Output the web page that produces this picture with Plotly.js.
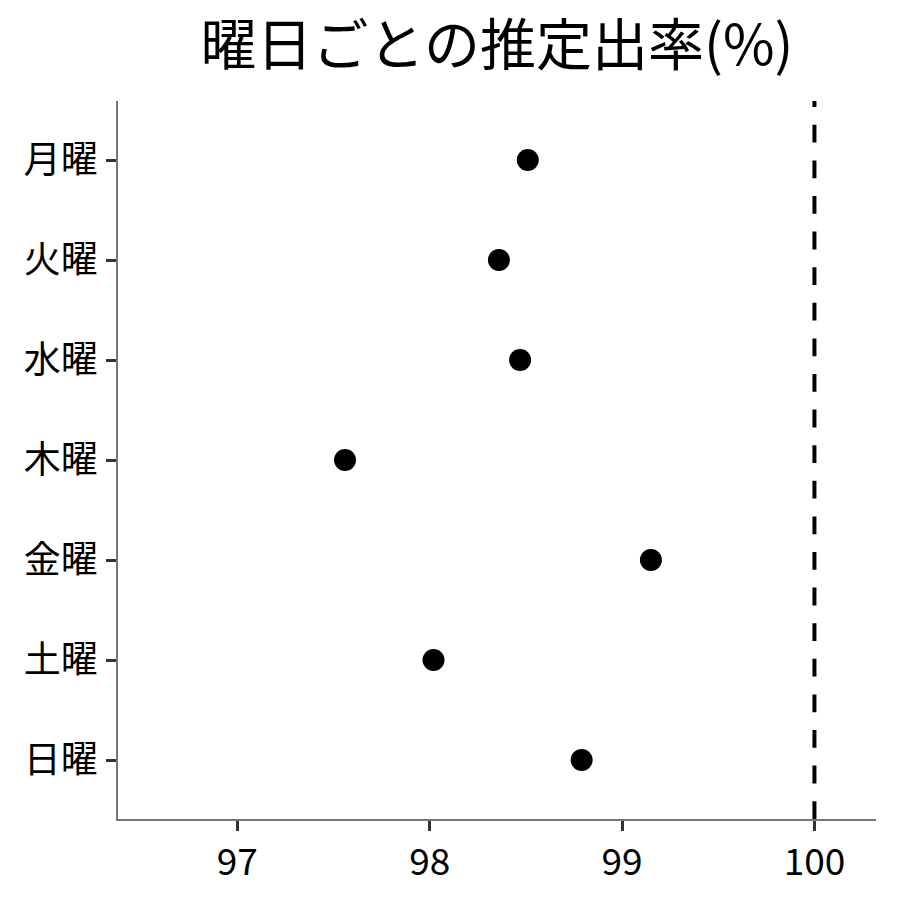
<!DOCTYPE html>
<html>
<head>
<meta charset="utf-8">
<script src="https://cdn.plot.ly/plotly-3.0.1.min.js"></script>
<style>body{margin:0;background:#fff}</style>
</head>
<body>
<div id="chart" style="width:900px;height:900px"></div>
<script>
// 曜日ごとの推定出率
var days = ['月曜', '火曜', '水曜', '木曜', '金曜', '土曜', '日曜'];
var rates = [98.51, 98.36, 98.47, 97.56, 99.15, 98.02, 98.79];
var refLine = 100;
var xTicks = [97, 98, 99, 100];

var trace = {
    type: 'scatter',
    mode: 'markers',
    x: rates,
    y: days,
    marker: {color: '#000', size: 22},
    hoverinfo: 'x+y'
};

var layout = {
    width: 900,
    height: 900,
    margin: {l: 118, r: 24, t: 101, b: 81},
    paper_bgcolor: '#fff',
    plot_bgcolor: '#fff',
    font: {family: '"Noto Sans CJK JP", "Noto Sans", sans-serif', color: '#000'},
    showlegend: false,
    title: {
        text: '曜日ごとの推定出率(%)',
        font: {size: 56, color: '#000'},
        x: 0.5, xref: 'paper', xanchor: 'center',
        y: 0.95, yanchor: 'middle'
    },
    xaxis: {
        range: [96.38, 100.32],
        tickvals: xTicks,
        ticktext: xTicks.map(String),
        showgrid: false,
        zeroline: false,
        showline: true,
        linecolor: '#777',
        linewidth: 1.5,
        ticks: 'outside',
        ticklen: 10,
        tickwidth: 3,
        tickcolor: '#333',
        tickfont: {size: 37, color: '#000'}
    },
    yaxis: {
        type: 'category',
        categoryorder: 'array',
        categoryarray: days,
        range: [6.59, -0.59],
        showgrid: false,
        zeroline: false,
        showline: true,
        linecolor: '#777',
        linewidth: 1.5,
        ticks: 'outside',
        ticklen: 10,
        tickwidth: 3,
        tickcolor: '#333',
        ticklabelstandoff: 1,
        tickfont: {size: 37, color: '#000'}
    },
    shapes: [{
        type: 'line',
        xref: 'x', yref: 'paper',
        x0: refLine, x1: refLine, y0: 0, y1: 1,
        line: {color: '#000', width: 4, dash: '17.8px,17.8px'}
    }]
};

Plotly.newPlot('chart', [trace], layout, {displayModeBar: false});
</script>
</body>
</html>
